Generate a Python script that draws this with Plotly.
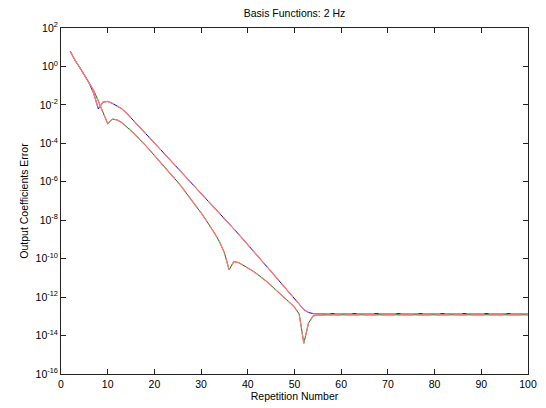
import plotly.graph_objects as go

repetition = list(range(2, 101))

# log10 of error, upper curve (blue)
upper_log = [0.78, 0.32, -0.05, -0.45, -0.85, -1.40, -2.21, -1.85, -1.82, -1.92,
             -2.05, -2.20, -2.42, -2.67, -2.93, -3.20, -3.46, -3.72, -3.98, -4.24,
             -4.50, -4.76, -5.02, -5.28, -5.54, -5.80, -6.06, -6.32, -6.58, -6.84,
             -7.10, -7.37, -7.64, -7.91, -8.18, -8.45, -8.72, -8.99, -9.27, -9.55,
             -9.83, -10.11, -10.39, -10.67, -10.95, -11.23, -11.51, -11.80, -12.10, -12.40,
             -12.65, -12.80, -12.86, -12.87] + [-12.86] * 45

# log10 of error, lower curve (green)
lower_log = [0.78, 0.32, -0.05, -0.45, -0.85, -1.25, -1.80, -2.40, -2.98, -2.74,
             -2.78, -2.92, -3.12, -3.35, -3.58, -3.81, -4.08, -4.35, -4.62, -4.89,
             -5.16, -5.44, -5.72, -6.02, -6.32, -6.63, -6.95, -7.28, -7.62, -7.97,
             -8.33, -8.72, -9.15, -9.70, -10.58, -10.15, -10.20, -10.33, -10.47, -10.63,
             -10.80, -10.98, -11.18, -11.40, -11.62, -11.84, -12.06, -12.28, -12.52, -12.88,
             -14.40, -13.35, -12.98, -12.93] + [-12.92] * 45

upper = [10 ** v for v in upper_log]
lower = [10 ** v for v in lower_log]

x_ticks = list(range(0, 101, 10))
y_exps = list(range(-16, 3, 2))
y_tickvals = [10.0 ** e for e in y_exps]
y_ticktext = ["10<sup>%d</sup>" % e for e in y_exps]

fig = go.Figure()
fig.add_trace(go.Scatter(x=repetition, y=upper, mode="lines",
                         line=dict(color="#0000ff", width=1), showlegend=False))
fig.add_trace(go.Scatter(x=repetition, y=lower, mode="lines",
                         line=dict(color="#008000", width=1), showlegend=False))
fig.add_trace(go.Scatter(x=repetition, y=upper, mode="lines",
                         line=dict(color="#ff7878", width=1.3, dash="18px,4px"), showlegend=False))
fig.add_trace(go.Scatter(x=repetition, y=lower, mode="lines",
                         line=dict(color="#ff7878", width=1.3, dash="14px,4px"), showlegend=False))

fam = "Liberation Sans, Arial, sans-serif"

# page body has an 8px margin, so the figure is 8px smaller than the window
fig.update_layout(
    width=538, height=400,
    margin=dict(l=53, r=18, t=20, b=34),
    paper_bgcolor="white", plot_bgcolor="white",
    font=dict(family=fam, size=10, color="#000"),
    title=dict(text="Basis Functions: 2 Hz", xref="paper", x=0.5, xanchor="center",
               yref="container", y=0.9875, yanchor="middle", automargin=False,
               font=dict(family=fam, size=10.5, color="#000")),
    xaxis=dict(range=[0, 100], tickvals=x_ticks, ticks="inside", ticklen=5, mirror="ticks",
               showline=True, linecolor="#222", linewidth=1, showgrid=False, zeroline=False,
               automargin=False,
               tickcolor="#222", tickfont=dict(family=fam, size=10.5, color="#000"),
               title=dict(text="Repetition Number", standoff=3,
                          font=dict(family=fam, size=10.5, color="#000"))),
    yaxis=dict(type="log", range=[-16, 2], tickvals=y_tickvals, ticktext=y_ticktext,
               ticks="inside", ticklen=5, mirror="ticks", showline=True, linecolor="#222",
               linewidth=1, showgrid=False, zeroline=False, tickcolor="#222",
               automargin=False,
               tickfont=dict(family=fam, size=10.5, color="#000"),
               title=dict(text="Output Coefficients Error", standoff=4,
                          font=dict(family=fam, size=10.5, color="#000"))),
)

fig.write_html("out.html")
